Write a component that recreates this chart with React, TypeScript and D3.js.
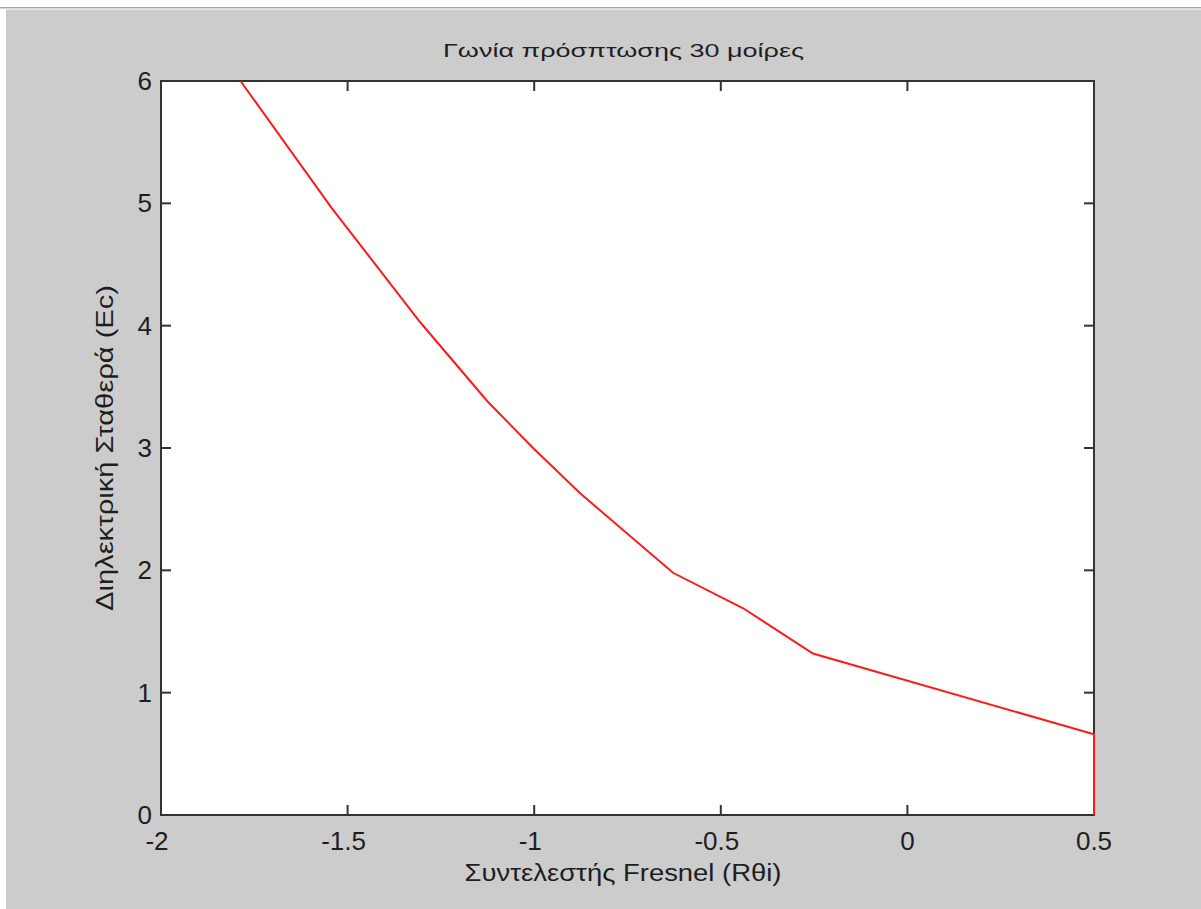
import React from "react";
import * as d3 from "d3";

const fresnel = [-1.787, -1.543, -1.306, -1.125, -1.003, -0.877, -0.628, -0.44, -0.253, 0.5, 0.5];
const ec = [6.0, 4.963, 4.03, 3.38, 3.0, 2.63, 1.98, 1.69, 1.32, 0.66, 0];
const xTicks = [-2, -1.5, -1, -0.5, 0, 0.5];
const xTickLabels = ["-2", "-1.5", "-1", "-0.5", "0", "0.5"];
const yTicks = [0, 1, 2, 3, 4, 5, 6];
const yTickLabels = ["0", "1", "2", "3", "4", "5", "6"];
const titleText = "Γωνία πρόσπτωσης 30 μοίρες";
const xLabelText = "Συντελεστής Fresnel (Rθi)";
const yLabelText = "Διηλεκτρική Σταθερά (Ec)";

const W = 1201;
const H = 909;
const L = 161, R = 1094, T = 81, B = 815;
const FONT = "'Liberation Sans', Arial, sans-serif";
const AX = "#333333";
const TXT = "#1e1e1e";

export default function App() {
  const x = d3.scaleLinear().domain([-2, 0.5]).range([L, R]);
  const y = d3.scaleLinear().domain([0, 6]).range([B, T]);
  const pts = fresnel.map((f, i) => [f, ec[i]] as [number, number]);
  const line = d3.line<[number, number]>().x((d) => x(d[0])).y((d) => y(d[1]));
  const tl = 10;
  return (
    <svg width={W} height={H} style={{ position: "absolute", left: 0, top: 0 }}>
      <defs>
        <clipPath id="plotclip">
          <rect x={L} y={T} width={R - L + 1} height={B - T + 1} />
        </clipPath>
      </defs>
      <rect x={0} y={0} width={W} height={H} fill="#ffffff" />
      <rect x={6} y={9} width={W - 6} height={H - 9} fill="#cccccc" />
      <rect x={0} y={7} width={W} height={1.5} fill="#a8a8a8" />
      <rect x={6} y={8.5} width={W - 6} height={1.5} fill="#e6e6e6" />
      <rect x={L} y={T} width={R - L} height={B - T} fill="#ffffff" />
      <rect x={L} y={T} width={R - L} height={B - T} fill="none" stroke={AX} strokeWidth={2} />
      {xTicks.map((t, i) => (
        <g key={"xt" + i}>
          <line x1={x(t)} x2={x(t)} y1={B} y2={B - tl} stroke={AX} strokeWidth={2} />
          <line x1={x(t)} x2={x(t)} y1={T} y2={T + tl} stroke={AX} strokeWidth={2} />
          <text
            x={x(t) + (t < 0 ? -4 : 0)}
            y={850}
            textAnchor="middle"
            fontFamily={FONT}
            fontSize={26}
            fill={TXT}
          >
            {xTickLabels[i]}
          </text>
        </g>
      ))}
      {yTicks.map((t, i) => (
        <g key={"yt" + i}>
          <line x1={L} x2={L + tl} y1={y(t)} y2={y(t)} stroke={AX} strokeWidth={2} />
          <line x1={R} x2={R - tl} y1={y(t)} y2={y(t)} stroke={AX} strokeWidth={2} />
          <text
            x={152}
            y={y(t) + 2}
            textAnchor="end"
            dominantBaseline="middle"
            fontFamily={FONT}
            fontSize={26}
            fill={TXT}
          >
            {yTickLabels[i]}
          </text>
        </g>
      ))}
      <path d={line(pts) || ""} fill="none" stroke="#ff1a1a" strokeWidth={2} clipPath="url(#plotclip)" />
      <text
        x={623.5}
        y={57}
        textAnchor="middle"
        fontFamily={FONT}
        fontSize={19}
        fill={TXT}
        textLength={361}
        lengthAdjust="spacingAndGlyphs"
      >
        {titleText}
      </text>
      <text
        x={623}
        y={881}
        textAnchor="middle"
        fontFamily={FONT}
        fontSize={23}
        fill={TXT}
        textLength={317}
        lengthAdjust="spacingAndGlyphs"
      >
        {xLabelText}
      </text>
      <text
        transform={`translate(113, ${(T + B) / 2}) rotate(-90)`}
        textAnchor="middle"
        fontFamily={FONT}
        fontSize={24}
        fill={TXT}
        textLength={326}
        lengthAdjust="spacingAndGlyphs"
      >
        {yLabelText}
      </text>
    </svg>
  );
}
